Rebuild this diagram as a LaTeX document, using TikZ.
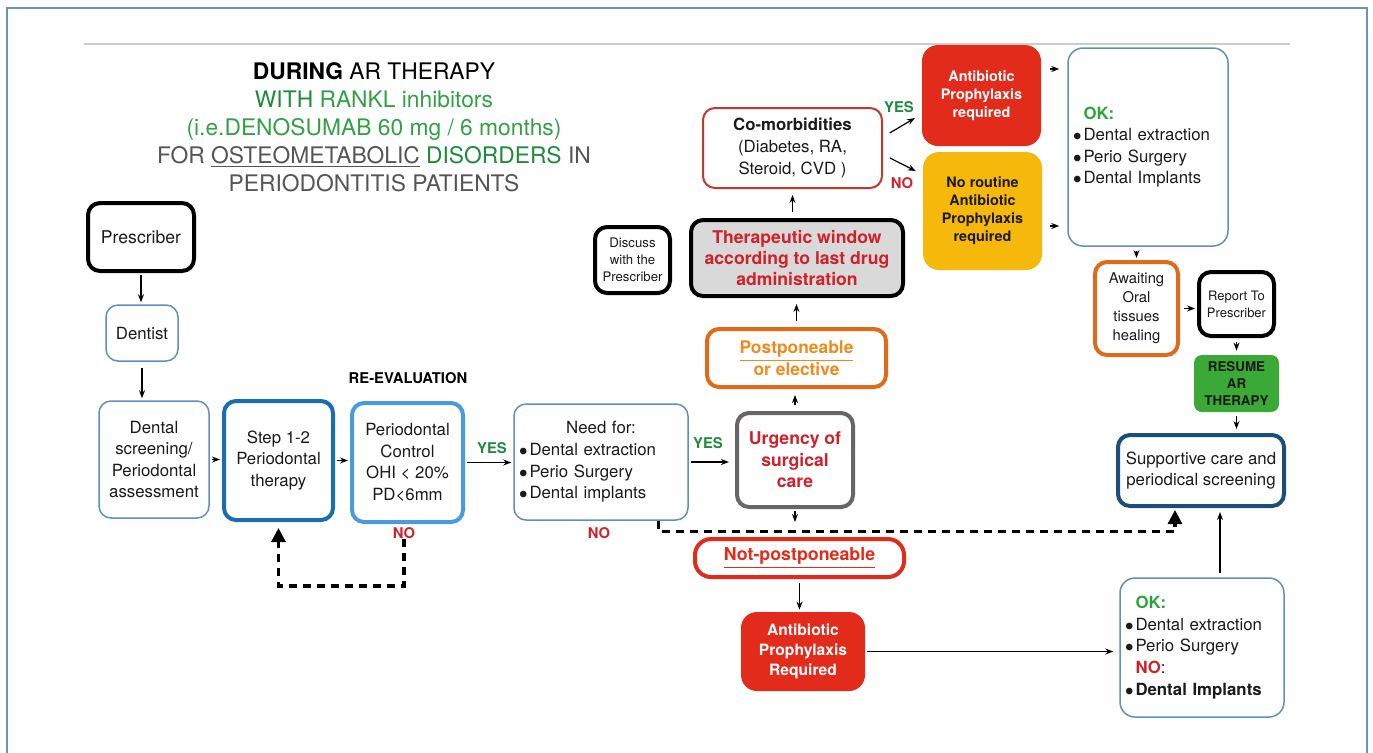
\documentclass[tikz,border=0pt]{standalone}
\usepackage{fontspec}
\setmainfont{TeX Gyre Heros}
\usetikzlibrary{arrows.meta}
\definecolor{ink}{HTML}{1A1A1A}
\definecolor{frameblue}{HTML}{6A93B8}
\definecolor{boxblue}{HTML}{5E8FC2}
\definecolor{stepblue}{HTML}{1A6DB3}
\definecolor{ctrlblue}{HTML}{4A9BDC}
\definecolor{supblue}{HTML}{1B4E78}
\definecolor{yesgreen}{HTML}{1E8A3C}
\definecolor{lightgreen}{HTML}{34A046}
\definecolor{okgreen}{HTML}{2AA33B}
\definecolor{nored}{HTML}{D0202A}
\definecolor{boxred}{HTML}{E32B1C}
\definecolor{boxyellow}{HTML}{F6B90B}
\definecolor{boxgreen}{HTML}{3AA936}
\definecolor{orangeline}{HTML}{E06A1A}
\definecolor{orangetext}{HTML}{F08A1C}
\definecolor{greytext}{HTML}{555555}
\definecolor{urgencygrey}{HTML}{666666}
\definecolor{windowgrey}{HTML}{D9D9D9}
\definecolor{rulegrey}{HTML}{CCCCCC}
\definecolor{comorbred}{HTML}{C0392B}
\newcommand{\itemdot}{$\bullet$\hspace{1pt}}
\newcommand{\itemgap}{\phantom{$\bullet$\hspace{1pt}}}

\begin{document}
\begin{tikzpicture}[x=0.5pt,y=-0.5pt,>={Stealth[length=4pt,width=3pt]}]
	\useasboundingbox (0,0) rectangle (1373,752);
	\tikzstyle{basebox}=[rounded corners=6pt, align=center, inner sep=1pt, text=ink, font=\fontsize{8.4}{10.8}\selectfont]
	\tikzstyle{thinbox}=[basebox, draw=boxblue, line width=0.75pt]
	\tikzstyle{blackbox}=[basebox, draw=black, line width=2pt]
	\tikzstyle{fillbox}=[basebox, rounded corners=8pt, font=\bfseries\fontsize{7.2}{9}\selectfont]
	\tikzstyle{yeslbl}=[text=yesgreen, inner sep=0pt, font=\bfseries\fontsize{7.4}{9}\selectfont]
	\tikzstyle{nolbl}=[text=nored, inner sep=0pt, font=\bfseries\fontsize{7.4}{9}\selectfont]
	\tikzstyle{dasharrow}=[line width=1.6pt, dash pattern=on 4pt off 3pt, -{Triangle[length=7pt,width=7pt]}]

	\draw[frameblue, line width=1pt] (6.5,760) -- (6.5,8) -- (1367,8) -- (1367,760);
	\draw[rulegrey, line width=1pt] (84,44) -- (1290,44);

	\node[align=center, text=greytext, font=\fontsize{11.4}{14}\selectfont] (title) at (374,127)
		{\textcolor{black}{\textbf{DURING} AR THERAPY}\\
		 \textcolor{yesgreen}{WITH} \textcolor{lightgreen}{RANKL inhibitors}\\
		 \textcolor{lightgreen}{(i.e.DENOSUMAB 60 mg / 6 months)}\\
		 FOR \underline{OSTEOMETABOLIC} \textcolor{yesgreen}{DISORDERS} IN\\
		 PERIODONTITIS PATIENTS};

	\node[blackbox, minimum width=53pt, minimum height=34pt, font=\fontsize{8.8}{10.8}\selectfont] 	(prescr) at (141,237) {Prescriber};
	\node[thinbox, minimum width=36pt, minimum height=28pt] 	(dentist) at (142,333) {Dentist};
	\node[thinbox, minimum width=55pt, minimum height=58.5pt] 	(screen) at (154,459.5) {Dental\\screening/\\Periodontal\\assessment};
	\node[basebox, draw=stepblue, line width=2pt, minimum width=54.5pt, minimum height=59.5pt] 	(step) at (278.5,460.5) {Step 1-2\\Periodontal\\therapy};
	\node[basebox, draw=ctrlblue, line width=2pt, minimum width=55.5pt, minimum height=59.5pt] 	(control) at (407.5,462.5) {Periodontal\\Control\\OHI < 20\%\\PD<6mm};
	\node[font=\bfseries\fontsize{7.4}{9}\selectfont] 	(reeval) at (408,378) {RE-EVALUATION};
	\node[thinbox, text width=82pt, inner xsep=2.5pt, minimum height=58pt, align=left] 	(need) at (601,462)
		{\makebox[\hsize]{Need for:}\\\itemdot Dental extraction\\\itemdot Perio Surgery\\\itemdot Dental implants};
	\node[yeslbl] 	(yes1) at (492,448) {YES};
	\node[nolbl] 	(no1) at (404,533) {NO};
	\node[nolbl] 	(no2) at (599,533) {NO};

	\node[basebox, draw=urgencygrey, line width=2pt, minimum width=58pt, minimum height=47pt, text=nored, font=\bfseries\fontsize{8.8}{10.8}\selectfont] 	(urgency) at (795,460) {Urgency of\\surgical\\care};
	\node[yeslbl] 	(yes2) at (708,443) {YES};
	\node[basebox, draw=orangeline, line width=2pt, minimum width=89.5pt, minimum height=29pt, text=orangetext, font=\bfseries\fontsize{8.7}{10.8}\selectfont] 	(postpone) at (796.5,358) {\underline{Postponeable}\\or elective};
	\node[basebox, fill=windowgrey, draw=black, line width=2pt, minimum width=106pt, minimum height=38pt, text=nored, font=\bfseries\fontsize{8.8}{10.6}\selectfont] 	(window) at (797,258) {Therapeutic window\\according to last drug\\administration};
	\node[blackbox, minimum width=37.5pt, minimum height=33pt, font=\fontsize{6.6}{8.6}\selectfont] 	(discuss) at (632.5,260) {Discuss\\with the\\Prescriber};
	\node[basebox, draw=comorbred, line width=1pt, minimum width=89.5pt, minimum height=40pt] 	(comorb) at (792.5,148) {\textbf{Co-morbidities}\\(Diabetes, RA,\\Steroid, CVD )};
	\node[yeslbl] 	(yes3) at (899,107) {YES};
	\node[nolbl] 	(no3) at (902,183) {NO};

	\node[fillbox, fill=boxred, text=white, minimum width=59.5pt, minimum height=50.5pt] 	(antiyes) at (981.5,95.5) {Antibiotic\\Prophylaxis\\required};
	\node[fillbox, fill=boxyellow, minimum width=59.5pt, minimum height=59pt] 	(noroutine) at (982.5,211) {No routine\\Antibiotic\\Prophylaxis\\required};
	\node[thinbox, rounded corners=7.5pt, text width=75pt, inner xsep=2.5pt, minimum height=99pt, align=left] 	(oktop) at (1148,147)
		{\itemgap\textcolor{okgreen}{\textbf{OK:}}\\\itemdot Dental extraction\\\itemdot Perio Surgery\\\itemdot Dental Implants};
	\node[basebox, draw=orangeline, line width=2pt, minimum width=41.5pt, minimum height=46.5pt, font=\fontsize{7.4}{9.5}\selectfont] 	(awaiting) at (1136.5,308.5) {Awaiting\\Oral\\tissues\\healing};
	\node[blackbox, minimum width=37.5pt, minimum height=32pt, font=\fontsize{6.5}{8.4}\selectfont] 	(report) at (1236.5,304) {Report To\\Prescriber};
	\node[fillbox, rounded corners=4pt, fill=boxgreen, minimum width=42.5pt, minimum height=28.5pt, font=\bfseries\fontsize{6.7}{8.4}\selectfont] 	(resume) at (1236.5,383.5) {RESUME\\AR\\THERAPY};
	\node[basebox, draw=supblue, line width=2pt, minimum width=83pt, minimum height=35.5pt] 	(sup) at (1201,470.5) {Supportive care and\\periodical screening};
	\node[thinbox, rounded corners=7.5pt, text width=77pt, inner xsep=2.5pt, minimum height=69.5pt, align=left] 	(okbot) at (1202,647.5)
		{\itemgap\textcolor{okgreen}{\textbf{OK:}}\\\itemdot Dental extraction\\\itemdot Perio Surgery\\\itemgap\textcolor{nored}{\textbf{NO}}:\\\itemdot\textbf{Dental Implants}};
	\node[basebox, draw=boxred, line width=2pt, rounded corners=8pt, minimum width=104.5pt, minimum height=19pt, text=boxred, font=\bfseries\fontsize{8.9}{10.8}\selectfont] 	(notpost) at (799.5,558) {\underline{Not-postponeable}};
	\node[fillbox, fill=boxred, text=white, minimum width=62pt, minimum height=39.5pt, font=\bfseries\fontsize{7.8}{10}\selectfont] 	(antireq) at (803,651.5) {Antibiotic\\Prophylaxis\\Required};

	\begin{scope}[->, line width=0.6pt, shorten >=1pt, shorten <=1pt]
		\draw	(prescr.south) -- (prescr.south |- dentist.north);
		\draw[shorten <=3pt]	(dentist.south) -- (dentist.south |- screen.north);
		\draw	(screen.east) -- (screen.east -| step.west);
		\draw	(step.east) -- (step.east -| control.west);
		\draw	(control.east) -- (control.east -| need.west);
		\draw[shorten >=3pt]	(need.east) -- (need.east -| urgency.west);
		\draw[shorten <=3pt, shorten >=3pt]	(urgency.north) -- (urgency.north |- postpone.south);
		\draw[shorten <=3pt, shorten >=3pt]	(postpone.north) -- (postpone.north |- window.south);
		\draw[shorten <=3pt, shorten >=3pt]	(comorb.south |- window.north) -- (comorb.south);
		\draw	([shift={(2.5pt,7pt)}]comorb.east) -- ([shift={(-2.5pt,-10.75pt)}]antiyes.west);
		\draw	([shift={(2.5pt,-4.5pt)}]comorb.east) -- ([shift={(-2.5pt,19.5pt)}]noroutine.west);
		\draw	([shift={(3.5pt,13.25pt)}]antiyes.east) -- ([shift={(-3pt,39pt)}]oktop.west);
		\draw	([shift={(3pt,-7.5pt)}]noroutine.east) -- ([shift={(-3pt,-39.5pt)}]oktop.west);
		\draw[shorten <=2pt]	(awaiting.north |- oktop.south) -- (awaiting.north);
		\draw[shorten <=2pt]	(awaiting.east) -- (awaiting.east -| report.west);
		\draw[shorten <=2pt, shorten >=2pt]	(report.south) -- (report.south |- resume.north);
		\draw[shorten <=2pt, shorten >=2pt]	(resume.south) -- (resume.south |- sup.north);
		\draw[shorten <=2pt, shorten >=2pt]	([xshift=9pt]okbot.north) -- ([xshift=9pt]okbot.north |- sup.south);
		\draw[shorten >=3pt]	(antireq.east) -- (antireq.east -| okbot.west);
		\draw[shorten <=2pt]	(notpost.south) -- (notpost.south |- antireq.north);
		\draw[shorten >=7.5pt]	(urgency.south) -- (urgency.south |- notpost.north);
	\end{scope}

	\draw[dasharrow, shorten >=3pt]	(no1.south) -- ++(0,47) -| (step.south);
	\draw[dasharrow, shorten >=1pt]	([xshift=-15pt]need.south east) -- ++(0,11) -| ([xshift=-13pt]sup.south);
\end{tikzpicture}
\end{document}
